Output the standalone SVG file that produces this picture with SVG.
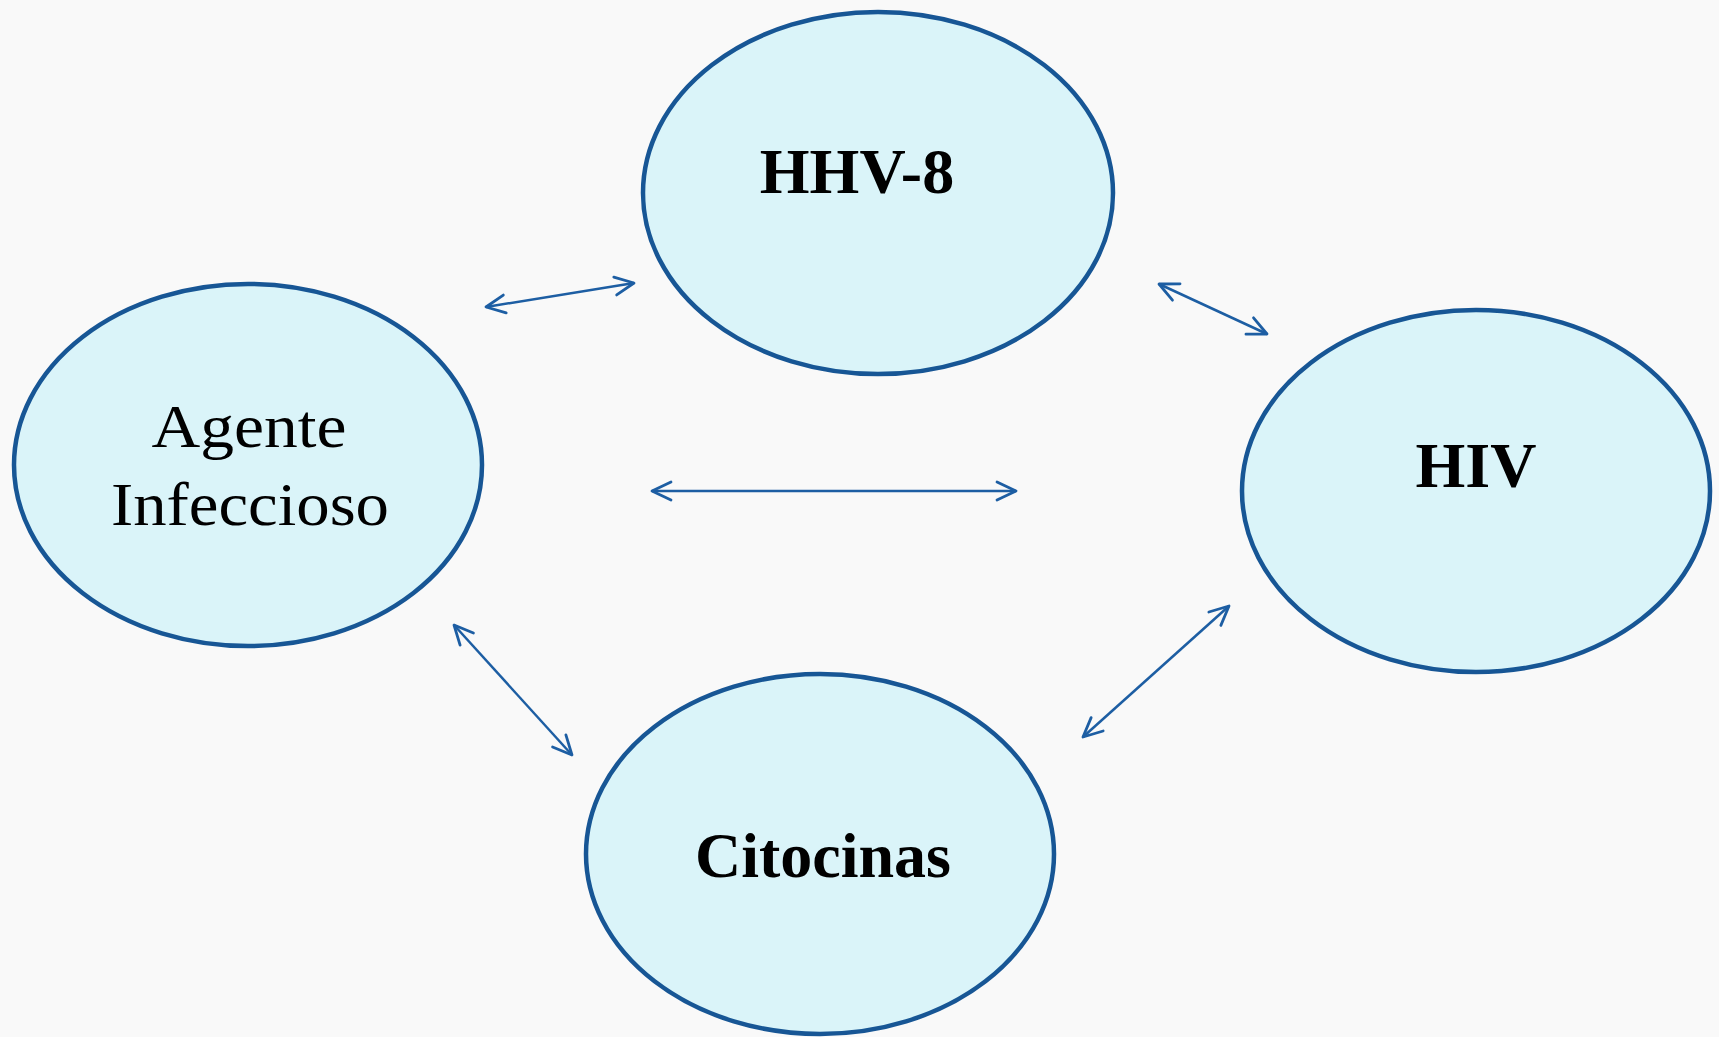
<svg xmlns="http://www.w3.org/2000/svg" width="1719" height="1037" viewBox="0 0 1719 1037">
<defs>
<style>
.node{fill:#daf4f9;stroke:#175695;stroke-width:4.5}
.lbl{font-family:"Liberation Serif","Times New Roman",serif;fill:#000;text-anchor:middle}
.b{font-weight:bold;font-size:64px}
.n{font-size:62px}
.conn{stroke:#1d5ea3;stroke-width:2.5;fill:none;marker-start:url(#ah);marker-end:url(#ah)}
</style>
<marker id="ah" viewBox="0 0 24 24" refX="22" refY="12" markerWidth="24" markerHeight="24" markerUnits="userSpaceOnUse" orient="auto-start-reverse">
<path d="M3,3 L22,12 L3,21" fill="none" stroke="#1d5ea3" stroke-width="2.8" stroke-linecap="round" stroke-linejoin="round"/>
</marker>
</defs>
<rect width="1719" height="1037" fill="#f9f9f9"/>
<g id="connectors">
<line class="conn" x1="486" y1="307" x2="634" y2="283"/>
<line class="conn" x1="652" y1="491" x2="1016" y2="491"/>
<line class="conn" x1="1159" y1="284" x2="1267" y2="334"/>
<line class="conn" x1="454" y1="625" x2="572" y2="755"/>
<line class="conn" x1="1229" y1="606" x2="1083" y2="737"/>
</g>
<g id="hhv8">
<ellipse class="node" cx="878" cy="193" rx="235" ry="181"/>
<text class="lbl b" x="857" y="193">HHV-8</text>
</g>
<g id="agente">
<ellipse class="node" cx="248" cy="465" rx="234" ry="181"/>
<text class="lbl n" x="249" y="447" textLength="195" lengthAdjust="spacingAndGlyphs">Agente</text>
<text class="lbl n" x="250" y="525" textLength="278" lengthAdjust="spacingAndGlyphs">Infeccioso</text>
</g>
<g id="hiv">
<ellipse class="node" cx="1476" cy="491" rx="234" ry="181"/>
<text class="lbl b" x="1476" y="487">HIV</text>
</g>
<g id="citocinas">
<ellipse class="node" cx="820" cy="854" rx="234" ry="180"/>
<text class="lbl b" x="823" y="877">Citocinas</text>
</g>
</svg>
